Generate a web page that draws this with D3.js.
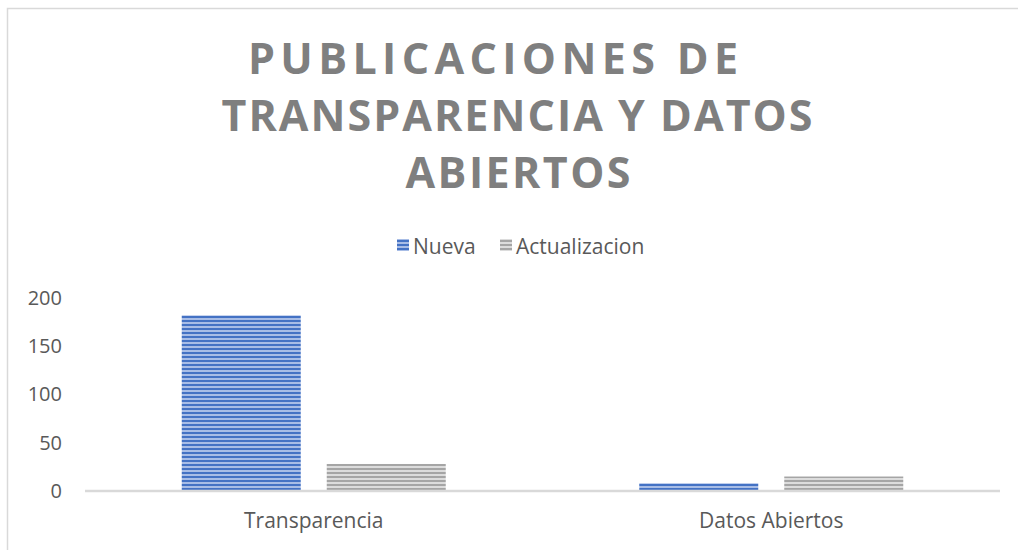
<!DOCTYPE html>
<html><head><meta charset="utf-8">
<script src="https://cdn.jsdelivr.net/npm/d3@7"></script>
<style>body{margin:0;background:#fff}svg{display:block}</style>
</head><body>
<script>
const categories = ["Transparencia", "Datos Abiertos"];
const seriesNames = ["Nueva", "Actualizacion"];
const nueva = [182, 8];
const actualizacion = [28, 15];
const yTicks = [0, 50, 100, 150, 200];
const titleLines = ["PUBLICACIONES DE", "TRANSPARENCIA Y DATOS", "ABIERTOS"];

const W = 1018, H = 550;
const svg = d3.select("body").append("svg").attr("width", W).attr("height", H);
const defs = svg.append("defs");
function stripe(id, dark, light){
  const p = defs.append("pattern").attr("id", id).attr("patternUnits","userSpaceOnUse")
    .attr("width", 8).attr("height", 4);
  p.append("rect").attr("width",8).attr("height",4).attr("fill", light);
  p.append("rect").attr("width",8).attr("height",2).attr("fill", dark);
}
stripe("pBlue", "#4472C4", "#a8bde6");
stripe("pGray", "#a5a5a5", "#dcdcdc");
const fills = ["url(#pBlue)", "url(#pGray)"];
const font = "'Open Sans', sans-serif";

// border
svg.append("rect").attr("x",7.5).attr("y",8.5).attr("width",W).attr("height",H)
  .attr("fill","none").attr("stroke","#d9d9d9").attr("stroke-width",1.5);

// title
const tw = [[493,74,490],[517,131,591],[518,188,225]];
svg.append("g").selectAll("text").data(titleLines).join("text")
  .attr("x",(d,i)=>tw[i][0]).attr("y",(d,i)=>tw[i][1])
  .attr("text-anchor","middle")
  .attr("textLength",(d,i)=>tw[i][2]).attr("lengthAdjust","spacing")
  .style("font-family",font).style("font-weight","bold")
  .style("font-size","43px").style("fill","#7f7f7f").text(d=>d);

// scales
const x0 = d3.scaleBand().domain(categories).range([85, 1000]);
const y = d3.scaleLinear().domain([0,200]).range([491, 298]);
const barW = 119, gap = 26;

// bars
const data = categories.map((c,i)=>({c, vals:[nueva[i], actualizacion[i]]}));
const gBars = svg.append("g");
data.forEach(d=>{
  const cx = x0(d.c) + x0.bandwidth()/2;
  d.vals.forEach((v,j)=>{
    const xs = j===0 ? cx - gap/2 - barW : cx + gap/2;
    gBars.append("rect").attr("x", xs).attr("y", y(v)).attr("width", barW)
      .attr("height", y(0)-y(v)).attr("fill", fills[j]);
  });
});

// x axis line
svg.append("line").attr("x1",85).attr("x2",1000).attr("y1",y(0)).attr("y2",y(0))
  .attr("stroke","#d9d9d9").attr("stroke-width",2.5);

// y axis labels
const yAxis = d3.axisLeft(y).tickValues(yTicks).tickSize(0).tickPadding(0);
const gy = svg.append("g").attr("transform","translate(62,0)").call(yAxis);
gy.select(".domain").remove();
gy.selectAll("text").style("font-family",font).style("font-size","20px")
  .style("fill","#595959");

// x axis labels
const xAxis = d3.axisBottom(x0).tickSize(0).tickPadding(0);
const gx = svg.append("g").attr("transform","translate(0,513)").call(xAxis);
gx.select(".domain").remove();
gx.selectAll("text").style("font-family",font).style("font-size","21px")
  .style("fill","#595959");

// legend
const lg = svg.append("g");
const lx = [397, 500];
seriesNames.forEach((s,i)=>{
  lg.append("rect").attr("x",lx[i]).attr("y",239).attr("width",12).attr("height",12).attr("fill",fills[i]);
  lg.append("text").attr("x",lx[i]+16).attr("y",253.5).text(s)
    .style("font-family",font).style("font-size","21px").style("fill","#595959");
});
</script>
</body></html>
